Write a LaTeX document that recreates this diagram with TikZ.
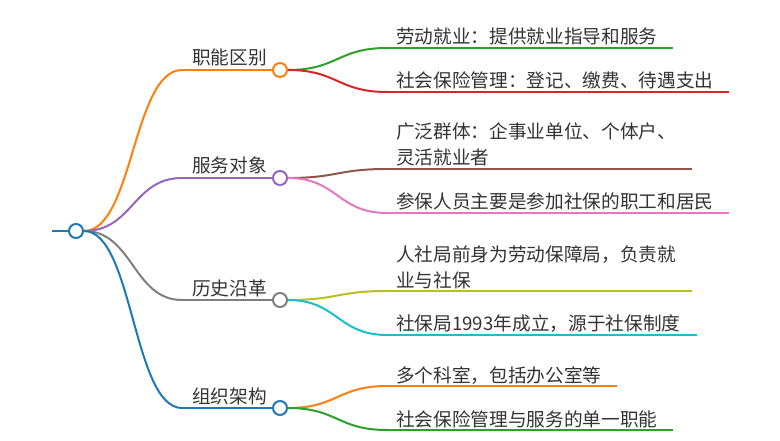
\documentclass[tikz,border=0pt]{standalone}
\usepackage{fontspec}
\setmainfont{Noto Sans CJK SC}
\usetikzlibrary{calc}
\definecolor{cOrange}{HTML}{FF7F0E}
\definecolor{cPurple}{HTML}{9467BD}
\definecolor{cGray}{HTML}{7F7F7F}
\definecolor{cBlue}{HTML}{1F77B4}
\definecolor{cGreen}{HTML}{2CA02C}
\definecolor{cRed}{HTML}{D62728}
\definecolor{cBrown}{HTML}{8C564B}
\definecolor{cPink}{HTML}{E377C2}
\definecolor{cOlive}{HTML}{BCBD22}
\definecolor{cCyan}{HTML}{17BECF}
\definecolor{cText}{HTML}{333333}
\newcommand\mmlink[3]{\draw[link,#1] let \p1=(#2), \p2=(#3) in (\p1) .. controls ({0.5*\x1+0.5*\x2},\y1) and ({0.5*\x1+0.5*\x2},\y2) .. (\p2);}
\tikzset{
  link/.style={line width=1.5pt},
  dot/.style={circle,draw,fill=white,line width=1.5pt,minimum size=10.5pt,inner sep=0pt},
  lbl/.style={anchor=base west,inner sep=0pt,text=cText,font=\fontsize{14pt}{19.5pt}\selectfont,align=left},
}
\begin{document}
\begin{tikzpicture}[x=0.75pt,y=-0.75pt]
\useasboundingbox (0,0) rectangle (780,441);
% root
\coordinate (r0) at (52,231);
\node[dot,draw=cBlue] (r) at (76,231) {};
\draw[link,cBlue] (r0) -- (r.west);
% branch circles
\node[dot,draw=cOrange] (c1) at (280,70) {};
\node[dot,draw=cPurple] (c2) at (280,178) {};
\node[dot,draw=cGray] (c3) at (280,300) {};
\node[dot,draw=cBlue] (c4) at (280,408) {};
\coordinate (s1) at (182,70);
\coordinate (s2) at (182,178);
\coordinate (s3) at (182,300);
\coordinate (s4) at (182,408);
\mmlink{cOrange}{r.east}{s1}
\mmlink{cPurple}{r.east}{s2}
\mmlink{cGray}{r.east}{s3}
\mmlink{cBlue}{r.east}{s4}
\draw[link,cOrange] (s1) -- (c1.west);
\draw[link,cPurple] (s2) -- (c2.west);
\draw[link,cGray] (s3) -- (c3.west);
\draw[link,cBlue] (s4) -- (c4.west);
\node[lbl] (t1) at (192,65) {职能区别};
\node[lbl] (t2) at (192,173) {服务对象};
\node[lbl] (t3) at (192,295) {历史沿革};
\node[lbl] (t4) at (192,403) {组织架构};
% leaf lines
\coordinate (a1) at (387,48);  \coordinate (e1) at (673,48);
\coordinate (a2) at (387,92);  \coordinate (e2) at (729,92);
\coordinate (a3) at (387,169); \coordinate (e3) at (692,169);
\coordinate (a4) at (387,213); \coordinate (e4) at (729,213);
\coordinate (a5) at (387,291); \coordinate (e5) at (692,291);
\coordinate (a6) at (387,335); \coordinate (e6) at (697,335);
\coordinate (a7) at (387,386); \coordinate (e7) at (617,386);
\coordinate (a8) at (387,430); \coordinate (e8) at (673,430);
\mmlink{cGreen}{c1.east}{a1}
\mmlink{cRed}{c1.east}{a2}
\mmlink{cBrown}{c2.east}{a3}
\mmlink{cPink}{c2.east}{a4}
\mmlink{cOlive}{c3.east}{a5}
\mmlink{cCyan}{c3.east}{a6}
\mmlink{cOrange}{c4.east}{a7}
\mmlink{cGreen}{c4.east}{a8}
\draw[link,cGreen] (a1) -- (e1);
\draw[link,cRed] (a2) -- (e2);
\draw[link,cBrown] (a3) -- (e3);
\draw[link,cPink] (a4) -- (e4);
\draw[link,cOlive] (a5) -- (e5);
\draw[link,cCyan] (a6) -- (e6);
\draw[link,cOrange] (a7) -- (e7);
\draw[link,cGreen] (a8) -- (e8);
\node[lbl] (l1) at (396,44) {劳动就业：提供就业指导和服务};
\node[lbl] (l2) at (396,88) {社会保险管理：登记、缴费、待遇支出};
\node[lbl] (l3) at (396,165) {广泛群体：企事业单位、个体户、\\灵活就业者};
\node[lbl] (l4) at (396,209) {参保人员主要是参加社保的职工和居民};
\node[lbl] (l5) at (396,287) {人社局前身为劳动保障局，负责就\\业与社保};
\node[lbl] (l6) at (396,330) {社保局1993年成立，源于社保制度};
\node[lbl] (l7) at (396,382) {多个科室，包括办公室等};
\node[lbl] (l8) at (396,426) {社会保险管理与服务的单一职能};
\end{tikzpicture}
\end{document}
